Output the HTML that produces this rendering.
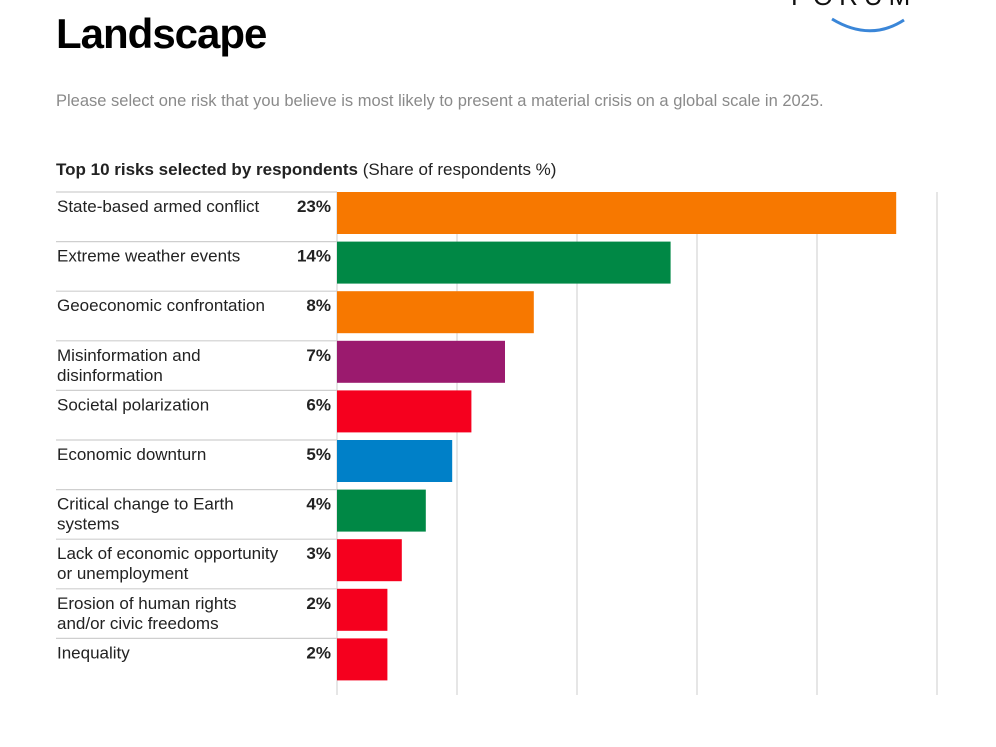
<!DOCTYPE html>
<html><head><meta charset="utf-8"><style>
html,body{margin:0;padding:0;background:#fff;}
body{width:996px;height:747px;overflow:hidden;position:relative;font-family:"Liberation Sans",Arial,sans-serif;}
svg{position:absolute;left:0;top:0;}
</style></head><body>
<svg id="chart" width="996" height="747">
  <text x="56" y="-4" font-size="42" font-weight="bold" fill="#000">Current Risk</text>
  <text x="56" y="48" font-size="42" font-weight="bold" fill="#000" letter-spacing="-1">Landscape</text>
  <text x="791" y="5" font-size="26" fill="#111" letter-spacing="6">FORUM</text>
  <path d="M832 19 Q870 42 904 20" stroke="#3a86d8" stroke-width="3" fill="none"/>
  <text x="56" y="106" font-size="16.5" fill="#8a8a8a">Please select one risk that you believe is most likely to present a material crisis on a global scale in 2025.</text>
  <text x="56" y="175" font-size="17" fill="#222"><tspan font-weight="bold">Top 10 risks selected by respondents</tspan><tspan>  (Share of respondents %)</tspan></text>
  <g id="grid"></g>
  <g id="rows"></g>
</svg>
<script>
const categories = [["State-based armed conflict"],["Extreme weather events"],["Geoeconomic confrontation"],["Misinformation and","disinformation"],["Societal polarization"],["Economic downturn"],["Critical change to Earth","systems"],["Lack of economic opportunity","or unemployment"],["Erosion of human rights","and/or civic freedoms"],["Inequality"]];
const values = [23.3, 13.9, 8.2, 7.0, 5.6, 4.8, 3.7, 2.7, 2.1, 2.1];
const valueLabels = ["23%","14%","8%","7%","6%","5%","4%","3%","2%","2%"];
const colors = ["#f77800","#008845","#f77800","#9b1a6e","#f5001e","#0080c8","#008845","#f5001e","#f5001e","#f5001e"];
const ticks = [0,5,10,15,20,25];

const NS="http://www.w3.org/2000/svg";
const x0=337, pxPer=24, rowTop=192, rowH=49.6, barH=42;
const xs=v=>x0+v*pxPer;
const ys=i=>rowTop+i*rowH;
function mk(t,a,p){const e=document.createElementNS(NS,t);for(const k in a)e.setAttribute(k,a[k]);p.appendChild(e);return e;}
const grid=document.getElementById('grid'), rows=document.getElementById('rows');
ticks.forEach(t=>{
  const l=mk('line',{x1:xs(t),x2:xs(t),y1:192,y2:695,stroke:'#d6d6d6','stroke-width':1.2},grid);
  
  
});
categories.forEach((c,i)=>{
  const y=ys(i);
  const sep=mk('line',{x1:56,x2:337,y1:y,y2:y,stroke:'#cfcfcf','stroke-width':1.2},rows);
  
  
  const b=mk('rect',{x:x0,y:y,width:xs(values[i])-x0,height:barH,fill:colors[i]},rows);
  
  
  c.forEach((ln,j)=>{
    const t=mk('text',{x:57,y:y+20+j*20,'font-size':17,fill:'#222'},rows);
    t.textContent=ln;
    
    
  });
  const v=mk('text',{x:331,y:y+20,'font-size':17,'font-weight':'bold','text-anchor':'end',fill:'#222'},rows);
  v.textContent=valueLabels[i];
  
  
});
</script>
</body></html>
